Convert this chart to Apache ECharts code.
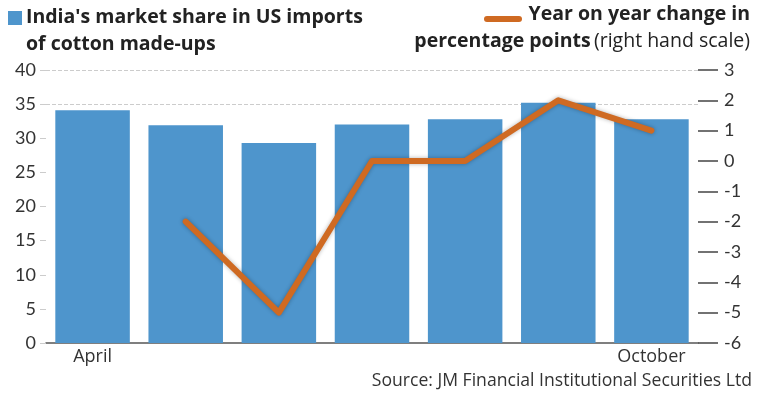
<!DOCTYPE html>
<html><head><meta charset="utf-8">
<script src="https://cdn.jsdelivr.net/npm/echarts@6/dist/echarts.min.js"></script>
<style>html,body{margin:0;padding:0;background:#fff}#c{width:761px;height:394px}</style>
</head><body><div id="c"></div>
<script>
var categories = ['April','May','June','July','August','September','October'];
var marketShare = [34.1, 31.9, 29.3, 32.0, 32.8, 35.2, 32.8];
var yoyChange = [null, -2, -5, 0, 0, 2, 1];
var leftTicks = [0,5,10,15,20,25,30,35,40];
var rightTicks = [-6,-5,-4,-3,-2,-1,0,1,2,3];

var chart = echarts.init(document.getElementById('c'));
var font = '"Open Sans", sans-serif';
chart.setOption({
  animation: false,
  textStyle: {fontFamily: font},
  grid: {left: 46, right: 63, top: 70, bottom: 51},
  xAxis: {
    type: 'category', data: categories,
    axisLine: {lineStyle: {color: '#555', width: 1.5}},
    axisTick: {show: false},
    axisLabel: {
      interval: 0, color: '#333', fontSize: 18, fontFamily: font, margin: 5,
      formatter: function (v, i) { return (i === 0 || i === categories.length - 1) ? v : ''; }
    }
  },
  yAxis: [{
    type: 'value', min: leftTicks[0], max: leftTicks[leftTicks.length-1], interval: 5,
    axisLine: {show: false},
    axisTick: {show: true, length: 6, lineStyle: {color: '#ccc'}},
    axisLabel: {color: '#333', fontSize: 18, fontFamily: 'Lato, sans-serif', margin: 10},
    splitLine: {show: true, lineStyle: {type: 'dashed', color: ['rgba(0,0,0,0)','rgba(0,0,0,0)','rgba(0,0,0,0)','rgba(0,0,0,0)','rgba(0,0,0,0)','rgba(0,0,0,0)','rgba(0,0,0,0)','#ccc','#ccc']}}
  }, {
    type: 'value', min: rightTicks[0], max: rightTicks[rightTicks.length-1], interval: 1,
    axisLine: {show: false},
    axisTick: {show: true, length: 20, lineStyle: {color: '#444', width: 1.5}},
    axisLabel: {color: '#333', fontSize: 18, fontFamily: 'Lato, sans-serif', margin: 26},
    splitLine: {show: false}
  }],
  series: [{
    name: "India's market share in US imports of cotton made-ups",
    type: 'bar', data: marketShare, barWidth: '80%', yAxisIndex: 0,
    itemStyle: {color: '#4e95cc'}
  }, {
    name: 'Year on year change in percentage points',
    type: 'line', data: yoyChange, yAxisIndex: 1, symbol: 'none',
    lineStyle: {color: '#cf6a22', width: 6, cap: 'round', join: 'round',
      shadowColor: 'rgba(0,0,0,0.3)', shadowBlur: 4}
  }],
  graphic: [
    {type: 'rect', left: 8, top: 11, shape: {width: 14, height: 14}, style: {fill: '#4e95cc'}},
    {type: 'text', left: 26, top: 4, style: {text: "India's market share in US imports\nof cotton made-ups", font: 'bold 19.5px "Open Sans", sans-serif', fill: '#222', lineHeight: 27}},
    {type: 'line', shape: {x1: 487, y1: 19, x2: 519, y2: 19}, style: {stroke: '#cf6a22', lineWidth: 6, lineCap: 'round'}},
    {type: 'text', right: 11, top: 4, style: {text: 'Year on year change in', font: 'bold 19.5px "Open Sans", sans-serif', fill: '#222', align: 'right'}},
    {type: 'text', right: 11, top: 31, style: {rich: {b: {font: 'bold 19.5px "Open Sans", sans-serif', fill: '#222'}, n: {font: '19.5px "Open Sans", sans-serif', fill: '#222'}}, text: '{b|percentage points} {n|(right hand scale)}'}},
    {type: 'text', right: 9, top: 372, style: {text: 'Source: JM Financial Institutional Securities Ltd', font: '17.6px "Open Sans", sans-serif', fill: '#333'}}
  ]
});
</script></body></html>
